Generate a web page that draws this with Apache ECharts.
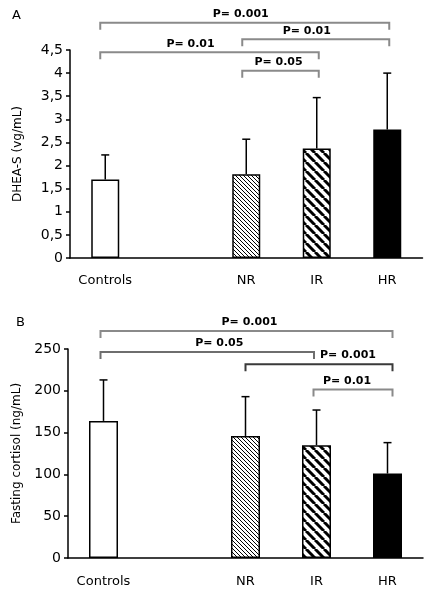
<!DOCTYPE html>
<html><head><meta charset="utf-8">
<script src="https://cdn.jsdelivr.net/npm/echarts@6/dist/echarts.min.js"></script>
<style>html,body{margin:0;padding:0;background:#fff}#c{width:441px;height:601px}</style>
</head><body><div id="c"></div>
<script>
// ---- data ----
const categories = ['Controls', '', 'NR', 'IR', 'HR'];
const dheaMean   = [1.70, null, 1.81, 2.37, 2.78];
const dheaErrTop = [2.23, null, 2.57, 3.47, 4.00];
const cortMean   = [164, null, 146, 135, 101];
const cortErrTop = [213, null, 193, 177, 138];
// brackets: [fromCategory, toCategory, level, label]
const dheaBrackets = [[0, 4, 5.09, 'P= 0.001'], [2, 4, 4.73, 'P= 0.01'], [0, 3, 4.45, 'P= 0.01'], [2, 3, 4.05, 'P= 0.05']];
const cortBrackets = [[0, 4, 271.6, 'P= 0.001'], [0, 3, 246.5, 'P= 0.05'], [2, 4, 231.9, 'P= 0.001'], [3, 4, 201.7, 'P= 0.01']];

// ---- styling / layout (not data) ----
const dheaBracketLayout = [ {l:-5, r:2, dx:-4, c:'#8a8a8a'}, {l:-4, r:2, dx:-9, c:'#8a8a8a'}, {l:-5, r:2, dx:-19, c:'#8a8a8a'}, {l:-4, r:2, dx:-2, c:'#8a8a8a'} ];
const cortBracketLayout = [ {l:-3, r:5, dx:3, c:'#8a8a8a'}, {l:-3, r:-2.5, dx:12, c:'#6e6e6e'}, {l:0, r:5, dx:29, c:'#3a3a3a'}, {l:-3, r:5, dx:-6, c:'#8a8a8a'} ];

function hatch(s, w) {
  const c = document.createElement('canvas');
  c.width = s; c.height = s;
  const g = c.getContext('2d');
  g.fillStyle = '#fff'; g.fillRect(0, 0, s, s);
  g.strokeStyle = '#000'; g.lineWidth = w;
  for (let k = -1; k <= 1; k++) {
    g.beginPath(); g.moveTo(k * s, 0); g.lineTo(k * s + s, s); g.stroke();
  }
  return c;
}
const fills = ['#ffffff', null, {image: hatch(4, 1), repeat: 'repeat'}, {image: hatch(9, 3), repeat: 'repeat'}, '#000000'];

const FONT = '"DejaVu Sans", Arial, sans-serif';

function barData(mean) {
  return mean.map((m, i) => m == null ? '-' : {value: m, itemStyle: {color: fills[i], borderColor: '#000', borderWidth: 1.5}});
}
function errData(mean, top) {
  const out = [];
  mean.forEach((m, i) => { if (m != null) out.push([i, m, top[i]]); });
  return out;
}
function errRender(params, api) {
  const p0 = api.coord([api.value(0), api.value(1)]);
  const p1 = api.coord([api.value(0), api.value(2)]);
  const st = {stroke: '#000', lineWidth: 1.5};
  return {type: 'group', children: [
    {type: 'line', shape: {x1: p0[0], y1: p0[1], x2: p1[0], y2: p1[1]}, style: st},
    {type: 'line', shape: {x1: p1[0] - 4, y1: p1[1], x2: p1[0] + 4, y2: p1[1]}, style: st}
  ]};
}
function bracketRender(brackets, layout) {
  return function (params, api) {
    const i = params.dataIndex;
    const L = layout[i];
    const a = api.coord([api.value(0), api.value(2)]);
    const b = api.coord([api.value(1), api.value(2)]);
    const ax = a[0] + L.l, bx = b[0] + L.r, y = a[1], drop = 7;
    return {type: 'group', children: [
      {type: 'polyline', shape: {points: [[ax, y + drop], [ax, y], [bx, y], [bx, y + drop]]},
       style: {stroke: L.c, lineWidth: 2, fill: null}},
      {type: 'text', style: {text: brackets[i][3], x: (ax + bx) / 2 + L.dx, y: y - 8.5,
        fill: '#000', font: 'bold 11px ' + FONT, align: 'center', verticalAlign: 'middle'}}
    ]};
  };
}
function bracketData(brackets) { return brackets.map(b => [b[0], b[1], b[2]]); }

const axisLine = {show: true, lineStyle: {color: '#000', width: 1.5}};
const chart = echarts.init(document.getElementById('c'), null, {renderer: 'canvas'});
chart.setOption({
  animation: false,
  backgroundColor: '#fff',
  grid: [
    {left: 70, top: 50, width: 352.5, height: 208},
    {left: 68, top: 349, width: 355, height: 209}
  ],
  xAxis: [0, 1].map(g => ({
    type: 'category', gridIndex: g, data: categories,
    axisLine: axisLine, axisTick: {show: false},
    axisLabel: {color: '#000', fontFamily: FONT, fontSize: 13, margin: g === 0 ? 16 : 17, interval: 0}
  })),
  yAxis: [
    {type: 'value', gridIndex: 0, min: 0, max: 4.5, interval: 0.5,
     name: 'DHEA-S (vg/mL)', nameLocation: 'middle', nameGap: 46, nameRotate: 90,
     nameTextStyle: {color: '#000', fontFamily: FONT, fontSize: 12},
     axisLine: axisLine, axisTick: {show: true, length: 4, lineStyle: {color: '#000', width: 1.5}},
     splitLine: {show: false},
     axisLabel: {color: '#000', fontFamily: FONT, fontSize: 14, margin: 7, formatter: v => String(v).replace('.', ',')}},
    {type: 'value', gridIndex: 1, min: 0, max: 250, interval: 50,
     name: 'Fasting cortisol (ng/mL)', nameLocation: 'middle', nameGap: 45, nameRotate: 90,
     nameTextStyle: {color: '#000', fontFamily: FONT, fontSize: 12},
     axisLine: axisLine, axisTick: {show: true, length: 4, lineStyle: {color: '#000', width: 1.5}},
     splitLine: {show: false},
     axisLabel: {color: '#000', fontFamily: FONT, fontSize: 14, margin: 7}}
  ],
  graphic: [
    {type: 'text', left: 12, top: 9, style: {text: 'A', fill: '#000', font: '13px ' + FONT}},
    {type: 'text', left: 16, top: 316, style: {text: 'B', fill: '#000', font: '13px ' + FONT}}
  ],
  series: [
    {type: 'bar', xAxisIndex: 0, yAxisIndex: 0, data: barData(dheaMean), barWidth: 28},
    {type: 'custom', xAxisIndex: 0, yAxisIndex: 0, data: errData(dheaMean, dheaErrTop), renderItem: errRender, encode: {x: 0, y: [1, 2]}, z: 3},
    {type: 'custom', xAxisIndex: 0, yAxisIndex: 0, data: bracketData(dheaBrackets), renderItem: bracketRender(dheaBrackets, dheaBracketLayout), encode: {x: [0, 1], y: 2}, clip: false, z: 4},
    {type: 'bar', xAxisIndex: 1, yAxisIndex: 1, data: barData(cortMean), barWidth: 29},
    {type: 'custom', xAxisIndex: 1, yAxisIndex: 1, data: errData(cortMean, cortErrTop), renderItem: errRender, encode: {x: 0, y: [1, 2]}, z: 3},
    {type: 'custom', xAxisIndex: 1, yAxisIndex: 1, data: bracketData(cortBrackets), renderItem: bracketRender(cortBrackets, cortBracketLayout), encode: {x: [0, 1], y: 2}, clip: false, z: 4}
  ]
});
</script></body></html>
